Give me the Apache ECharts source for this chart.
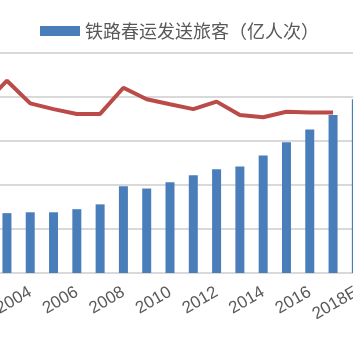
<!DOCTYPE html>
<html>
<head>
<meta charset="utf-8">
<script src="https://cdn.jsdelivr.net/npm/echarts@6/dist/echarts.min.js"></script>
<style>
  html, body { margin: 0; padding: 0; background: #fff; }
  #main { width: 353px; height: 352px; }
</style>
</head>
<body>
<div id="main"></div>
<script>
// 年份（2002 在画面左侧之外）
var years = ['2002', '2003', '2004', '2005', '2006', '2007', '2008', '2009', '2010',
  '2011', '2012', '2013', '2014', '2015', '2016', '2017', '2018E'];
// 铁路春运发送旅客（亿人次）
var railPassengers = [1.30, 1.36, 1.38, 1.38, 1.45, 1.56, 1.97, 1.92, 2.06,
  2.22, 2.36, 2.42, 2.67, 2.97, 3.26, 3.59, 3.95];
// 折线（右轴，画面外）
var railShare = [7.64, 8.74, 7.71, 7.45, 7.23, 7.23, 8.42, 7.90, 7.67,
  7.45, 7.79, 7.18, 7.08, 7.33, 7.29, 7.29, null];

var myChart = echarts.init(document.getElementById('main'));
var option;

option = {
    animation: false,
    legend: {
        data: ['铁路春运发送旅客（亿人次）'],
        left: 40,
        top: 22,
        padding: 0,
        itemWidth: 40,
        itemHeight: 10,
        itemGap: 10,
        icon: 'rect',
        textStyle: {
            fontSize: 18,
            color: '#595959',
            fontFamily: 'Noto Sans CJK SC',
            padding: [0, 0, 0, 0]
        }
    },
    grid: {
        left: -28,
        right: -15,
        top: 53,
        bottom: 79,
        containLabel: false,
        outerBoundsMode: 'none'
    },
    xAxis: {
        type: 'category',
        data: years,
        axisLine: { lineStyle: { color: '#d9d9d9', width: 2 } },
        axisTick: { show: false },
        axisLabel: {
            interval: 1,
            rotate: 30,
            margin: 18,
            fontSize: 17,
            color: '#595959',
            fontFamily: 'Liberation Sans'
        }
    },
    yAxis: [
        {
            type: 'value',
            min: 0,
            max: 5,
            interval: 1,
            axisLabel: { show: false },
            axisLine: { show: false },
            axisTick: { show: false },
            splitLine: { lineStyle: { color: '#d9d9d9', width: 2 } }
        },
        {
            type: 'value',
            min: 0,
            max: 10,
            interval: 2,
            axisLabel: { show: false },
            axisLine: { show: false },
            axisTick: { show: false },
            splitLine: { show: false }
        }
    ],
    series: [
        {
            name: '铁路春运发送旅客（亿人次）',
            type: 'bar',
            barWidth: 9,
            itemStyle: { color: '#4a7ebb' },
            data: railPassengers
        },
        {
            name: '占比',
            type: 'line',
            yAxisIndex: 1,
            symbol: 'none',
            z: 3,
            lineStyle: { color: '#bb4b48', width: 4 },
            data: railShare
        }
    ]
};

option && myChart.setOption(option);
</script>
</body>
</html>
